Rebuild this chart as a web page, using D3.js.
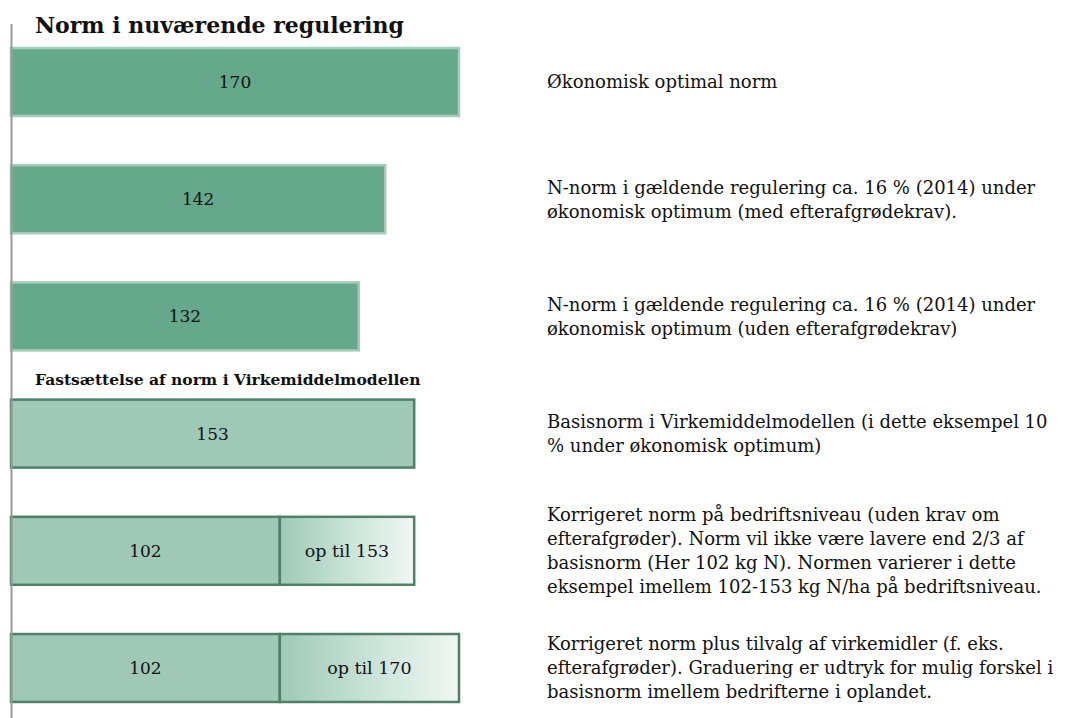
<!DOCTYPE html>
<html>
<head>
<meta charset="utf-8">
<script src="https://cdn.jsdelivr.net/npm/d3@7"></script>
<style>
  body { margin: 0; background: #fff; }
  svg text { font-family: "DejaVu Serif", Georgia, serif; fill: #111; }
</style>
</head>
<body>
<svg id="chart" width="1065" height="718"></svg>
<script>
// rows, top to bottom
var rows = ["okon", "med", "uden", "basis", "korr", "tilvalg"];
var baseVals = [170, 142, 132, 153, 102, 102];
var upTo = [null, null, null, null, 153, 170];
var groupOf = ["cur", "cur", "cur", "vm", "vm", "vm"];
var headers = [
  { row: "okon", text: "Norm i nuværende regulering", big: true },
  { row: "basis", text: "Fastsættelse af norm i Virkemiddelmodellen", big: false }
];
var notes = [
  ["Økonomisk optimal norm"],
  ["N-norm i gældende regulering ca. 16 % (2014) under", "økonomisk optimum (med efterafgrødekrav)."],
  ["N-norm i gældende regulering ca. 16 % (2014) under", "økonomisk optimum (uden efterafgrødekrav)"],
  ["Basisnorm i Virkemiddelmodellen (i dette eksempel 10", "% under økonomisk optimum)"],
  ["Korrigeret norm på bedriftsniveau (uden krav om", "efterafgrøder). Norm vil ikke være lavere end 2/3 af", "basisnorm (Her 102 kg N). Normen varierer i dette", "eksempel imellem 102-153 kg N/ha på bedriftsniveau."],
  ["Korrigeret norm plus tilvalg af virkemidler (f. eks.", "efterafgrøder). Graduering er udtryk for mulig forskel i", "basisnorm imellem bedrifterne i oplandet."]
];

var svg = d3.select("#chart");
var x = d3.scaleLinear().domain([0, 170]).range([11, 459]);
var y = d3.scaleBand().domain(rows).range([23.4, 726.6]).paddingInner(0.42).paddingOuter(0.21);

var defs = svg.append("defs");
var grad = defs.append("linearGradient").attr("id", "fade").attr("x1", "0").attr("x2", "1").attr("y1", "0").attr("y2", "0");
grad.append("stop").attr("offset", "0").attr("stop-color", "#9fc9b6");
grad.append("stop").attr("offset", "0.45").attr("stop-color", "#c4e0d3");
grad.append("stop").attr("offset", "1").attr("stop-color", "#f1f7f4");

var data = rows.map(function (r, i) {
  return { id: r, v: baseVals[i], to: upTo[i], g: groupOf[i], note: notes[i] };
});

// base bars
svg.selectAll("rect.base").data(data).enter().append("rect")
  .attr("class", "base")
  .attr("x", x(0))
  .attr("y", function (d) { return y(d.id); })
  .attr("width", function (d) { return x(d.v) - x(0); })
  .attr("height", y.bandwidth())
  .attr("fill", function (d) { return d.g == "cur" ? "#66a88b" : "#9fc9b6"; })
  .attr("stroke", function (d) { return d.g == "cur" ? "#a3cdb9" : "#4f8068"; })
  .attr("stroke-width", 2.5);

// "op til" segments
var ext = data.filter(function (d) { return d.to != null; });
svg.selectAll("rect.ext").data(ext).enter().append("rect")
  .attr("class", "ext")
  .attr("x", function (d) { return x(d.v); })
  .attr("y", function (d) { return y(d.id); })
  .attr("width", function (d) { return x(d.to) - x(d.v); })
  .attr("height", y.bandwidth())
  .attr("fill", "url(#fade)")
  .attr("stroke", "#4f8068")
  .attr("stroke-width", 2.5);

svg.selectAll("text.val").data(data).enter().append("text")
  .attr("class", "val")
  .attr("x", function (d) { return (x(0) + x(d.v)) / 2; })
  .attr("y", function (d) { return y(d.id) + y.bandwidth() / 2; })
  .attr("dy", "0.35em")
  .attr("text-anchor", "middle")
  .style("font-size", "17px")
  .text(function (d) { return d.v; });

svg.selectAll("text.ext").data(ext).enter().append("text")
  .attr("class", "ext")
  .attr("x", function (d) { return (x(d.v) + x(d.to)) / 2; })
  .attr("y", function (d) { return y(d.id) + y.bandwidth() / 2; })
  .attr("dy", "0.35em")
  .attr("text-anchor", "middle")
  .style("font-size", "17.5px")
  .text(function (d) { return "op til " + d.to; });

// axis line at the left
svg.append("g").attr("transform", "translate(" + x(0) + ",0)")
  .call(d3.axisLeft(y).tickSize(0).tickFormat(""))
  .call(function (g) { g.select(".domain").attr("stroke", "#999999").attr("stroke-width", 2); });

// headers
svg.selectAll("text.head").data(headers).enter().append("text")
  .attr("class", "head")
  .attr("x", 35)
  .attr("y", function (d) { return y(d.row) - 15; })
  .style("font-weight", "bold")
  .style("font-size", function (d) { return d.big ? "22px" : "15.5px"; })
  .text(function (d) { return d.text; });

// notes on the right
var lineH = 24;
var noteG = svg.selectAll("text.note").data(data).enter().append("text")
  .attr("class", "note")
  .attr("x", 547)
  .attr("y", function (d) { return y(d.id) + y.bandwidth() / 2 - (d.note.length - 1) * lineH / 2; })
  .style("font-size", "18px");
noteG.selectAll("tspan").data(function (d) { return d.note; }).enter().append("tspan")
  .attr("x", 547)
  .attr("dy", function (d, i) { return i == 0 ? "0.35em" : lineH; })
  .text(function (d) { return d; });
</script>
</body>
</html>
